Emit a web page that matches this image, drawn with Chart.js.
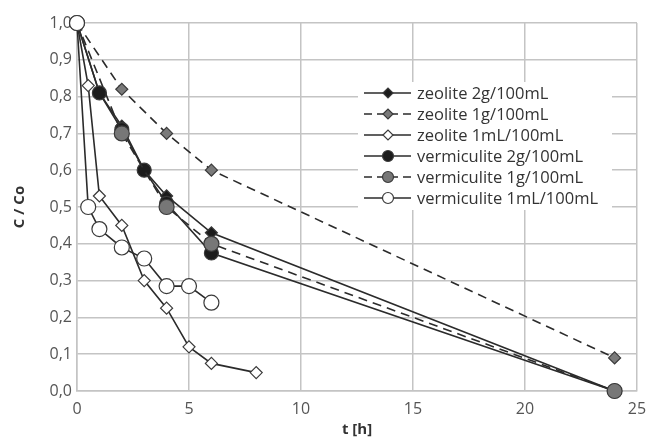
<!DOCTYPE html>
<html>
<head>
<meta charset="utf-8">
<title>C/Co vs t</title>
<style>
  html, body { margin: 0; padding: 0; background: #fff; }
  #wrap { width: 649px; height: 444px; }
</style>
</head>
<body>
<div id="wrap"><canvas id="myChart"></canvas></div>
<script src="https://cdn.jsdelivr.net/npm/chart.js"></script>
<script>
// values: t [h] and C/Co
const seriesNames = ['zeolite 2g/100mL', 'zeolite 1g/100mL', 'zeolite 1mL/100mL',
    'vermiculite 2g/100mL', 'vermiculite 1g/100mL', 'vermiculite 1mL/100mL'];

const tZeo2g = [0, 1, 2, 3, 4, 6, 24];
const cZeo2g = [1.0, 0.81, 0.72, 0.60, 0.53, 0.43, 0.0];

const tZeo1g = [0, 2, 4, 6, 24];
const cZeo1g = [1.0, 0.82, 0.70, 0.60, 0.09];

const tZeo1mL = [0, 0.5, 1, 2, 3, 4, 5, 6, 8];
const cZeo1mL = [1.0, 0.83, 0.53, 0.45, 0.30, 0.225, 0.12, 0.075, 0.05];

const tVer2g = [0, 1, 2, 3, 4, 6, 24];
const cVer2g = [1.0, 0.81, 0.71, 0.60, 0.51, 0.375, 0.0];

const tVer1g = [0, 2, 4, 6, 24];
const cVer1g = [1.0, 0.70, 0.50, 0.40, 0.0];

const tVer1mL = [0, 0.5, 1, 2, 3, 4, 5, 6];
const cVer1mL = [1.0, 0.50, 0.44, 0.39, 0.36, 0.285, 0.285, 0.24];

const xTicks = [0, 5, 10, 15, 20, 25];

const toPoints = (t, c) => t.map((x, i) => ({ x: x, y: c[i] }));

const LINE = '#2b2b2b';
const FONT = '"Open Sans", "Liberation Sans", sans-serif';
const styles = [
    { style: 'rectRot', radius: 6, fill: '#1c1c1c', dash: [] },
    { style: 'rectRot', radius: 6, fill: '#7a7a7a', dash: [9, 6] },
    { style: 'rectRot', radius: 6, fill: '#ffffff', dash: [] },
    { style: 'circle', radius: 7, fill: '#1c1c1c', dash: [] },
    { style: 'circle', radius: 7.5, fill: '#777777', dash: [9, 6] },
    { style: 'circle', radius: 7.5, fill: '#ffffff', dash: [] }
];
const pointSets = [
    toPoints(tZeo2g, cZeo2g), toPoints(tZeo1g, cZeo1g), toPoints(tZeo1mL, cZeo1mL),
    toPoints(tVer2g, cVer2g), toPoints(tVer1g, cVer1g), toPoints(tVer1mL, cVer1mL)
];

const datasets = seriesNames.map((name, i) => ({
    label: name,
    data: pointSets[i],
    borderColor: LINE,
    borderWidth: 1.6,
    borderDash: styles[i].dash,
    pointStyle: styles[i].style,
    pointRadius: styles[i].radius,
    pointBackgroundColor: styles[i].fill,
    pointBorderColor: '#3a3a3a',
    pointBorderWidth: 1.2,
    fill: false,
    tension: 0,
    clip: false,
    order: 6 - i
}));

// legend box drawn inside the plot, like the original
const boxLegend = {
    id: 'boxLegend',
    afterDraw(chart) {
        const ctx = chart.ctx;
        const x0 = 358, y0 = 82, w = 254, rowH = 21;
        ctx.save();
        ctx.fillStyle = '#fff';
        ctx.fillRect(x0, y0, w, rowH * 6 + 2);
        ctx.font = '16.5px ' + FONT;
        ctx.textBaseline = 'middle';
        seriesNames.forEach((name, i) => {
            const y = y0 + 11 + i * rowH;
            ctx.strokeStyle = LINE;
            ctx.lineWidth = 1.6;
            ctx.setLineDash(styles[i].dash.length ? [8, 5] : []);
            ctx.beginPath();
            ctx.moveTo(364, y);
            ctx.lineTo(411, y);
            ctx.stroke();
            ctx.setLineDash([]);
            ctx.fillStyle = styles[i].fill;
            ctx.strokeStyle = '#3a3a3a';
            ctx.lineWidth = 1.2;
            Chart.helpers.drawPoint(ctx, {
                pointStyle: styles[i].style,
                radius: styles[i].style === 'circle' ? 5.5 : 5,
                borderWidth: 1.2
            }, 388, y);
            ctx.fillStyle = '#333';
            ctx.fillText(name, 417, y + 1);
        });
        ctx.restore();
    }
};

const config = {
    type: 'line',
    data: { datasets: datasets },
    options: {
        responsive: true,
        maintainAspectRatio: false,
        animation: false,
        layout: { padding: { left: 0, right: 12, top: 23, bottom: 0 } },
        plugins: {
            legend: { display: false },
            tooltip: { enabled: false }
        },
        scales: {
            x: {
                type: 'linear',
                min: 0,
                max: 25,
                afterBuildTicks: (axis) => { axis.ticks = xTicks.map(v => ({ value: v })); },
                afterFit: (axis) => { axis.height = 53; axis.paddingRight = 0; axis.paddingLeft = 0; },
                grid: { color: '#c4c4c4', lineWidth: 1.5, drawTicks: false },
                border: { color: '#c4c4c4', width: 1.5 },
                ticks: { color: '#555', padding: 9, maxRotation: 0, font: { family: FONT, size: 16 } },
                title: {
                    display: true, text: 't [h]', color: '#333', padding: { top: 0, bottom: 5.6 },
                    font: { family: FONT, size: 15, weight: 'bold' }
                }
            },
            y: {
                min: 0,
                max: 1,
                afterFit: (axis) => { axis.width = 77; },
                ticks: {
                    stepSize: 0.1,
                    color: '#555',
                    padding: 5,
                    font: { family: FONT, size: 16 },
                    callback: (v) => v.toFixed(1).replace('.', ',')
                },
                grid: { color: '#c4c4c4', lineWidth: 1.5, drawTicks: false },
                border: { color: '#c4c4c4', width: 1.5 },
                title: {
                    display: true, text: 'C / Co', color: '#333', padding: { top: 11, bottom: 0 },
                    font: { family: FONT, size: 15, weight: 'bold' }
                }
            }
        }
    },
    plugins: [boxLegend]
};

new Chart(document.getElementById('myChart'), config);
</script>
</body>
</html>
